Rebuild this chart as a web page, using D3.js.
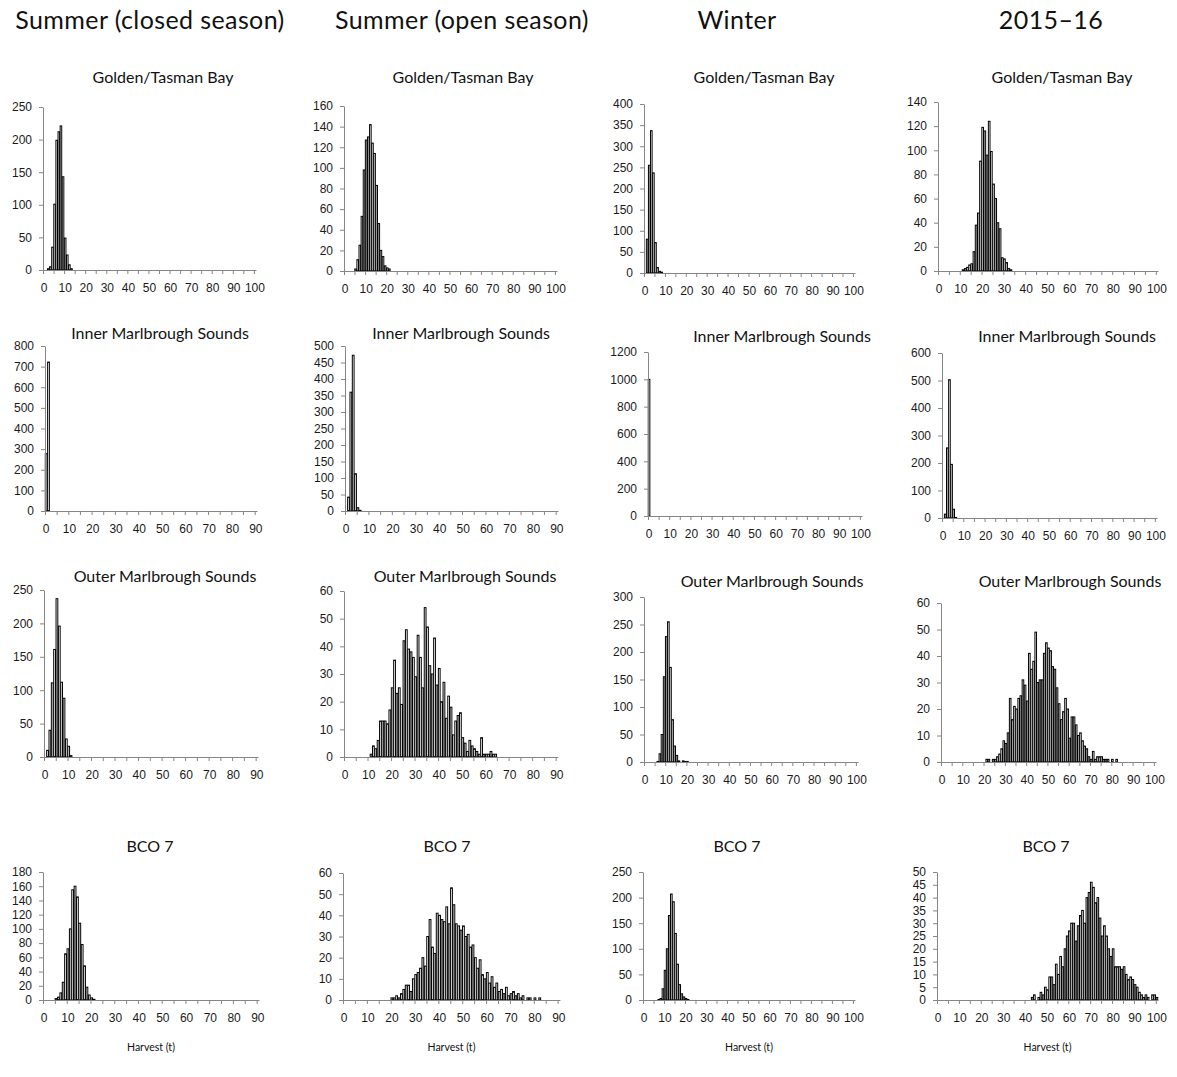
<!DOCTYPE html>
<html>
<head>
<meta charset="utf-8">
<script src="https://cdn.jsdelivr.net/npm/d3@7"></script>
<style>
  body { margin: 0; background: #fff; }
  svg { font-family: Lato, "Liberation Sans", sans-serif; }
  .axis path, .axis line { stroke: #868686; }
  .axis text { fill: #1a1a1a; font-size: 12px; }
</style>
</head>
<body>
<div id="chart"></div>
<script>
// column headers and panel titles
var seasons = ["Summer (closed season)", "Summer (open season)", "Winter", "2015\u201316"];
var areas = ["Golden/Tasman Bay", "Inner Marlbrough Sounds", "Outer Marlbrough Sounds", "BCO 7"];

// harvest histograms (1 t bins): first bin, then counts from that bin
var gtbClosed = { from: 2, counts: [2, 5, 35, 101, 199, 212, 221, 143, 49, 23, 8, 2] };
var gtbOpen = { from: 5, counts: [2, 11, 25, 53, 98, 127, 130, 142, 124, 114, 83, 46, 20, 14, 5, 3, 2] };
var gtbWinter = { from: 1, counts: [80, 255, 337, 237, 72, 13, 4, 2] };
var gtb1516 = { from: 11, counts: [1, 2, 3, 5, 6, 16, 38, 48, 91, 119, 116, 96, 124, 99, 72, 60, 40, 35, 11, 10, 7, 2, 1] };

var imsClosed = { from: 0, counts: [278, 722] };
var imsOpen = { from: 1, counts: [42, 360, 472, 113, 10, 2] };
var imsWinter = { from: 0, counts: [1000] };
var ims1516 = { from: 1, counts: [14, 255, 503, 195, 32, 2] };

var omsClosed = { from: 1, counts: [10, 40, 111, 161, 237, 196, 112, 88, 27, 16, 2] };
var omsOpen = { from: 11, counts: [1, 4, 3, 6, 13, 13, 13, 12, 17, 25, 35, 23, 25, 19, 42, 46, 39, 38, 36, 29,
  44, 36, 25, 54, 47, 33, 30, 43, 26, 32, 20, 27, 14, 22, 18, 8, 13, 15, 16, 7, 5, 2, 6, 4, 3, 2, 1, 7, 1, 1, 1, 2, 1, 1] };
var omsWinter = { from: 6, counts: [1, 15, 50, 155, 228, 255, 172, 77, 29, 12, 2, 0, 2, 1, 1] };
var oms1516 = { from: 21, counts: [1, 1, 0, 1, 1, 2, 3, 5, 8, 7, 11, 24, 16, 21, 20, 24, 25, 31, 29, 23,
  41, 35, 38, 49, 30, 31, 31, 41, 45, 43, 42, 36, 35, 28, 22, 16, 19, 24, 20, 9,
  17, 17, 14, 10, 11, 8, 6, 5, 2, 1, 4, 1, 2, 2, 2, 1, 1, 1, 0, 1, 0, 1] };

var bcoClosed = { from: 5, counts: [2, 4, 10, 25, 65, 72, 100, 155, 160, 145, 108, 78, 48, 18, 7, 3, 1] };
var bcoOpen = { from: 20, counts: [1, 1, 2, 1, 3, 5, 7, 7, 4, 10, 12, 13, 15, 20, 16, 30, 38, 25, 22, 41,
  40, 38, 37, 44, 36, 53, 45, 36, 35, 33, 35, 30, 31, 25, 26, 20, 15, 19, 12, 10,
  13, 8, 11, 6, 8, 4, 5, 3, 6, 2, 3, 4, 2, 3, 1, 2, 0, 1, 1, 0, 1, 0, 1] };
var bcoWinter = { from: 7, counts: [1, 3, 22, 58, 100, 165, 207, 192, 130, 70, 30, 12, 6, 3, 1] };
var bco1516 = { from: 43, counts: [1, 2, 0, 1, 3, 2, 5, 4, 9, 9, 6, 14, 10, 17, 13, 20, 25, 27, 30, 30,
  23, 29, 33, 35, 30, 40, 42, 46, 44, 38, 40, 32, 25, 29, 25, 20, 17, 20, 13, 13,
  13, 12, 13, 10, 8, 9, 8, 6, 5, 3, 2, 1, 2, 1, 0, 2, 2, 1] };

var series = [
  [gtbClosed, gtbOpen, gtbWinter, gtb1516],
  [imsClosed, imsOpen, imsWinter, ims1516],
  [omsClosed, omsOpen, omsWinter, oms1516],
  [bcoClosed, bcoOpen, bcoWinter, bco1516]
];

// axis ranges per panel
var xMax = [[100, 100, 100, 100], [90, 90, 100, 100], [90, 90, 100, 100], [90, 90, 100, 100]];
var yMax = [[250, 160, 400, 140], [800, 500, 1200, 600], [250, 60, 300, 60], [180, 60, 250, 50]];
var yStep = [[50, 20, 50, 20], [100, 50, 200, 100], [50, 10, 50, 10], [20, 10, 50, 5]];

// plot frames: left, right, top, bottom, title x, title y
var frames = [
  [[43, 256, 107, 270, 163, 83], [344, 557, 106, 271, 463, 83], [644, 855, 104, 273, 764, 83], [938, 1158, 102, 271, 1062, 83]],
  [[45, 257, 346, 511, 160, 339], [345, 558, 346, 511, 461, 339], [648, 862, 352, 516, 782, 342], [942, 1157, 353, 518, 1067, 342]],
  [[44, 258, 590, 757, 165, 582], [344, 558, 591, 757, 465, 582], [644, 858, 597, 762, 772, 587], [941, 1156, 603, 762, 1070, 587]],
  [[43, 259, 872, 1000, 150, 852], [343, 560, 873, 1000, 447, 852], [643, 855, 872, 1000, 737, 852], [937, 1158, 872, 1000, 1046, 852]]
];
var headerX = [150, 462, 737, 1051];

var svg = d3.select("#chart")
    .append("svg")
    .attr("width", 1177)
    .attr("height", 1077);

svg.selectAll("text.header")
    .data(seasons)
    .enter().append("text")
    .attr("class", "header")
    .attr("x", (d, i) => headerX[i])
    .attr("y", 29)
    .attr("text-anchor", "middle")
    .style("font-size", "25px")
    .style("letter-spacing", "0.4px")
    .style("fill", "#111")
    .text(d => d);

series.forEach((row, r) => {
    row.forEach((s, c) => {
        var f = frames[r][c];
        var L = f[0], R = f[1], T = f[2], B = f[3];
        var n = xMax[r][c] + 1;

        var x = d3.scaleBand()
            .domain(d3.range(n))
            .range([L, R])
            .paddingInner(0.25)
            .paddingOuter(0.125);

        // category boundaries for the tick marks
        var xb = d3.scaleLinear().domain([0, n]).range([L, R]);

        var y = d3.scaleLinear()
            .domain([0, yMax[r][c]])
            .range([B, T]);

        var g = svg.append("g");

        g.append("text")
            .attr("x", f[4])
            .attr("y", f[5])
            .attr("text-anchor", "middle")
            .style("font-size", "16px")
            .style("fill", "#111")
            .text(areas[r]);

        var bins = s.counts.map((v, i) => ({ bin: s.from + i, count: v }))
            .filter(d => d.count > 0);

        g.selectAll("rect")
            .data(bins)
            .enter().append("rect")
            .attr("x", d => x(d.bin))
            .attr("y", d => y(d.count))
            .attr("width", x.bandwidth())
            .attr("height", d => B - y(d.count))
            .style("fill", "#fff")
            .style("stroke", "#000")
            .style("stroke-width", 1);

        g.append("g")
            .attr("class", "axis")
            .attr("transform", "translate(" + L + ",0)")
            .call(d3.axisLeft(y)
                .tickValues(d3.range(0, yMax[r][c] + 1, yStep[r][c]))
                .tickFormat(d3.format("d"))
                .tickSize(4)
                .tickSizeOuter(0)
                .tickPadding(7));

        g.append("g")
            .attr("class", "axis")
            .attr("transform", "translate(0," + B + ")")
            .call(d3.axisBottom(xb)
                .tickValues(d3.range(0, n + 1, 5))
                .tickSize(4)
                .tickSizeOuter(0)
                .tickFormat(""));

        var lab = g.append("g")
            .attr("class", "axis")
            .attr("transform", "translate(0," + B + ")")
            .call(d3.axisBottom(x)
                .tickValues(d3.range(0, n, 10))
                .tickSize(0)
                .tickPadding(13));
        lab.select(".domain").remove();

        if (r === 3) {
            g.append("text")
                .attr("x", (L + R) / 2)
                .attr("y", B + 51)
                .attr("text-anchor", "middle")
                .style("font-size", "10.5px")
                .style("fill", "#111")
                .text("Harvest (t)");
        }
    });
});
</script>
</body>
</html>
